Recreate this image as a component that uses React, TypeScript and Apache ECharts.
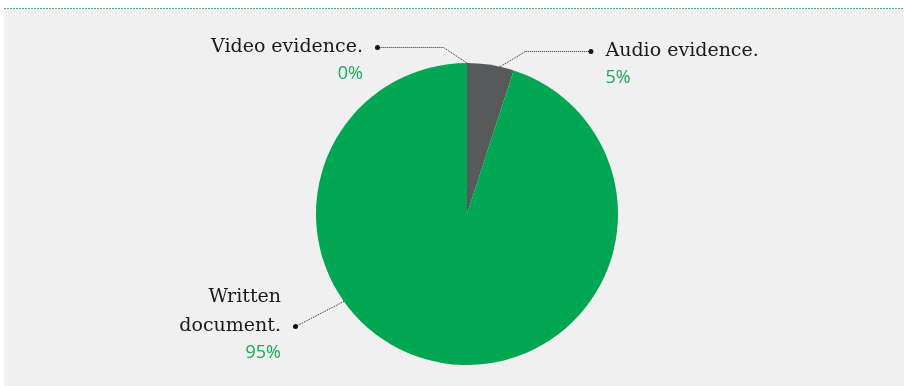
import React, { useEffect, useRef } from "react";
import * as echarts from "echarts";

// ---- data ----
const categories = ["Video evidence.", "Audio evidence.", "Written\ndocument."];
const values = [0, 5, 95];
const sliceColors = ["#58595b", "#58595b", "#00a651"];
const labelSides = ["left", "right", "left"];

// ---- geometry / layout (not data) ----
const CX = 467;
const CY = 214;
const R = 151;
const LINE_H = 29;
const PCT_LINE_H = 26;

// label anchor (box corner), elbow of leader line, attach angle (deg clockwise from top)
const LABEL_LAYOUT = [
  { x: 380, y: 33, elbow: [443.5, 47.5], attachDeg: 0, dotLine: 0 },
  { x: 588.5, y: 37, elbow: [525.5, 51.5], attachDeg: 12.6, dotLine: 0 },
  { x: 298, y: 283, elbow: null as null | number[], attachDeg: 234.6, dotLine: 1 },
];

export default function App() {
  const ref = useRef<HTMLDivElement>(null);

  useEffect(() => {
    if (!ref.current) return;
    const chart = echarts.init(ref.current, undefined, { renderer: "svg" });

    const option: any = {
      animation: false,
      graphic: [
        {
          type: "rect",
          z: -10,
          silent: true,
          shape: { x: 4, y: 9, width: 900, height: 377 },
          style: { fill: "#f0f0f0" },
        },
        {
          type: "line",
          z: -9,
          silent: true,
          shape: { x1: 4, y1: 8.5, x2: 904, y2: 8.5 },
          style: { stroke: "#3fb873", lineWidth: 1, lineDash: [2, 1] },
        },
      ],
      series: [
        {
          type: "pie",
          center: [CX, CY],
          radius: R,
          startAngle: 90,
          clockwise: true,
          avoidLabelOverlap: false,
          emphasis: { disabled: true },
          itemStyle: { borderWidth: 0 },
          data: categories.map((name, i) => ({
            name,
            value: values[i],
            itemStyle: { color: sliceColors[i] },
          })),
          label: {
            show: true,
            position: "outside",
            lineHeight: LINE_H,
            formatter: (p: any) => {
              const i = p.dataIndex;
              const left = labelSides[i] === "left";
              const lines = String(p.name).split("\n");
              const out = lines.map((ln, k) => {
                const last = k === lines.length - 1;
                if (left) return last ? `{n|${ln}}{sp|}{dot|}` : `{n|${ln}}{pad|}`;
                return last ? `{dot|}{sp|}{n|${ln}}` : `{pad|}{n|${ln}}`;
              });
              out.push(left ? `{p|${values[i]}%}{pad2|}` : `{pad2|}{p|${values[i]}%}`);
              return out.join("\n");
            },
            rich: {
              n: {
                fontFamily: "DejaVu Serif",
                fontSize: 19,
                color: "#1a1a1a",
                lineHeight: LINE_H,
                padding: [0, 0, 6, 0],
              },
              p: {
                fontFamily: "Open Sans",
                fontSize: 18,
                color: "#1aab57",
                lineHeight: PCT_LINE_H,
                padding: [0, 0, 6, 0],
              },
              sp: { width: 12, height: 5, lineHeight: LINE_H },
              pad: { width: 17, height: 5, lineHeight: LINE_H },
              pad2: { width: 17, height: 5, lineHeight: PCT_LINE_H },
              dot: {
                width: 5,
                height: 5,
                borderRadius: 2.5,
                backgroundColor: "#111111",
                lineHeight: LINE_H,
              },
            },
          },
          labelLine: {
            show: true,
            smooth: false,
            lineStyle: { color: "#222222", width: 1, type: [1, 1] },
          },
          labelLayout: (params: any) => {
            const i = params.dataIndex;
            const L = LABEL_LAYOUT[i];
            const left = labelSides[i] === "left";
            const a = (L.attachDeg * Math.PI) / 180;
            const p0 = [CX + R * Math.sin(a), CY - R * Math.cos(a)];
            const dot = [
              left ? L.x - 2.5 : L.x + 2.5,
              L.y + L.dotLine * LINE_H + LINE_H / 2,
            ];
            const elbow = L.elbow
              ? L.elbow
              : [(p0[0] + dot[0]) / 2, (p0[1] + dot[1]) / 2];
            return {
              x: L.x,
              y: L.y,
              align: left ? "right" : "left",
              verticalAlign: "top",
              labelLinePoints: [p0, elbow, dot],
            };
          },
        },
      ],
    };

    chart.setOption(option);
    return () => chart.dispose();
  }, []);

  return (
    <div
      ref={ref}
      style={{ position: "fixed", left: 0, top: 0, width: 904, height: 386 }}
    />
  );
}
